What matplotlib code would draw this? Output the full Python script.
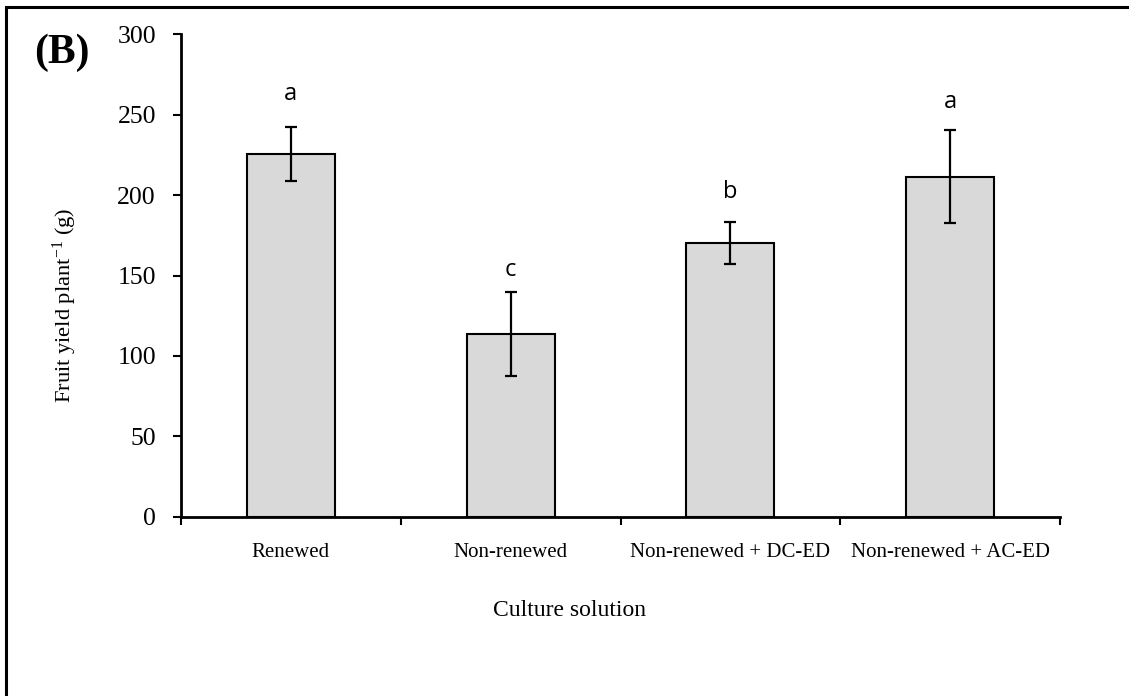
import matplotlib
matplotlib.use("Agg")
import matplotlib.pyplot as plt
from matplotlib.patches import Rectangle

categories = ["Renewed", "Non-renewed", "Non-renewed + DC-ED", "Non-renewed + AC-ED"]
yield_mean = [225.6, 113.5, 170.0, 211.5]
yield_err = [17.0, 26.0, 13.0, 28.7]
letters = ["a", "c", "b", "a"]
letter_y = [259.0, 149.7, 198.0, 254.0]
yticks = [0, 50, 100, 150, 200, 250, 300]

plt.rcParams['mathtext.fontset'] = 'custom'
plt.rcParams['mathtext.rm'] = 'Liberation Serif'
plt.rcParams['mathtext.it'] = 'Liberation Serif:italic'
plt.rcParams['mathtext.bf'] = 'Liberation Serif:bold'

fig = plt.figure(figsize=(11.29, 6.96), dpi=100)
ax = fig.add_axes([181/1129, 1-516.7/696, (1060-181)/1129, (516.7-34.3)/696])

x = list(range(len(categories)))
ax.bar(x, yield_mean, width=0.4, color="#D9D9D9", edgecolor="black", linewidth=1.5, zorder=2)
ax.errorbar(x, yield_mean, yerr=yield_err, fmt="none", ecolor="black", elinewidth=1.6,
            capsize=4.3, capthick=1.6, zorder=3)
for xi, lab, ly in zip(x, letters, letter_y):
    ax.text(xi, ly, lab, ha="center", va="baseline", fontsize=17, family="Open Sans")

ax.set_xlim(-0.5, 3.5)
ax.set_ylim(0, 300)
ax.set_yticks(yticks)
ax.set_yticklabels([str(t) for t in yticks], family="Liberation Serif", fontsize=18.5)
ax.set_xticks([-0.5, 0.5, 1.5, 2.5, 3.5])
ax.set_xticklabels([])
ax.set_xticks(x, minor=True)
ax.set_xticklabels(categories, minor=True, family="Liberation Serif", fontsize=15)
ax.tick_params(axis="x", which="minor", length=0, pad=19)
ax.tick_params(axis="x", which="major", direction="out", length=6, width=1.5)
ax.tick_params(axis="y", direction="out", length=6, width=1.5, pad=12)
for s in ["top", "right"]:
    ax.spines[s].set_visible(False)
for s in ["left", "bottom"]:
    ax.spines[s].set_linewidth(2)

fig.text(65/1129, 1-305/696, "Fruit yield plant$^{\\mathrm{-1}}$ (g)", rotation=90,
         ha="center", va="center", family="Liberation Serif", fontsize=16.2)
fig.text(569.5/1129, 1-610/696, "Culture solution", ha="center", va="center",
         family="Liberation Serif", fontsize=17)
fig.text(61.5/1129, 1-53/696, "(B)", ha="center", va="center",
         family="Liberation Serif", fontweight="bold", fontsize=30)

fig.patches.append(Rectangle((6/1129, -0.2), 1.2, 1.2 - 7/696, transform=fig.transFigure,
                             fill=False, edgecolor="black", linewidth=2.2))

fig.savefig("out.png", dpi=100)
